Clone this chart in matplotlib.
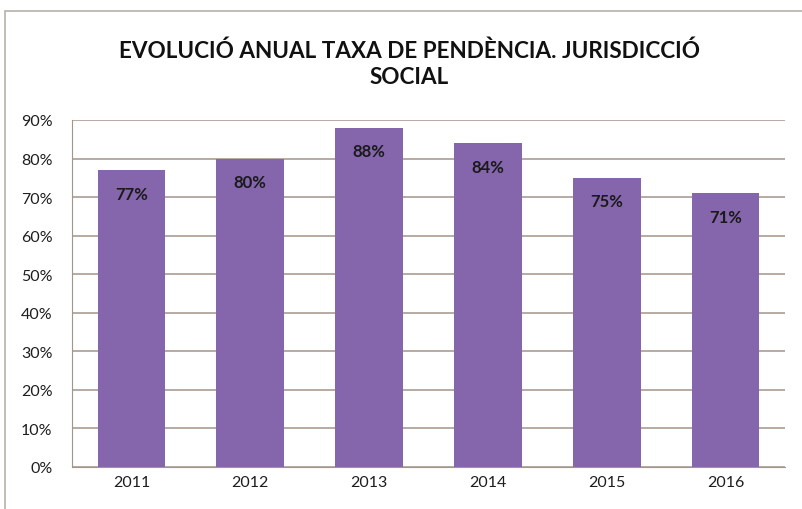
import matplotlib.pyplot as plt
from matplotlib.patches import Rectangle
from matplotlib.ticker import PercentFormatter

years = ["2011", "2012", "2013", "2014", "2015", "2016"]
rates = [0.77, 0.80, 0.88, 0.84, 0.75, 0.71]
labels = ["77%", "80%", "88%", "84%", "75%", "71%"]

plt.rcParams["font.family"] = ["Lato", "DejaVu Sans"]

fig = plt.figure(figsize=(8.02, 5.10), dpi=100)
ax = fig.add_axes([72 / 802, 1 - 468 / 510, 713 / 802, 347 / 510])

# marc exterior del gràfic
fig.patches.append(Rectangle((5 / 802, -0.05), 1.2, 1 - 12 / 510 + 0.05,
                             transform=fig.transFigure, fill=False,
                             edgecolor="#b8b0aa", linewidth=1.2))

x = range(len(years))
bars = ax.bar(x, rates, width=0.57, color="#8566ad", zorder=3)

for bar, lab in zip(bars, labels):
    ax.annotate(lab, (bar.get_x() + bar.get_width() / 2, bar.get_height()),
                xytext=(0, -17), textcoords="offset points",
                ha="center", va="center", fontsize=12, fontweight="bold",
                color="#1a1a1a", zorder=4)

ax.set_xlim(-0.5, len(years) - 0.5)
ax.set_ylim(0, 0.9)
ax.set_yticks([i / 10 for i in range(10)])
ax.yaxis.set_major_formatter(PercentFormatter(1.0, decimals=0))
ax.set_xticks(list(x))
ax.set_xticklabels(years)
ax.tick_params(axis="both", length=0, labelsize=11.5, colors="#1e1e1e", pad=6)
ax.tick_params(axis="y", pad=14)

ax.grid(axis="y", color="#a3958a", linewidth=1.1, zorder=0)
for side in ["top", "right"]:
    ax.spines[side].set_visible(False)
ax.spines["left"].set_color("#a3958a")
ax.spines["bottom"].set_color("#a3958a")

fig.text(0.51, 1 - 64 / 510, "EVOLUCIÓ ANUAL TAXA DE PENDÈNCIA. JURISDICCIÓ\nSOCIAL",
         ha="center", va="center", fontsize=16.2, fontweight="bold",
         color="#111111", linespacing=1.3)

fig.savefig("out.png", dpi=100, facecolor="white")
